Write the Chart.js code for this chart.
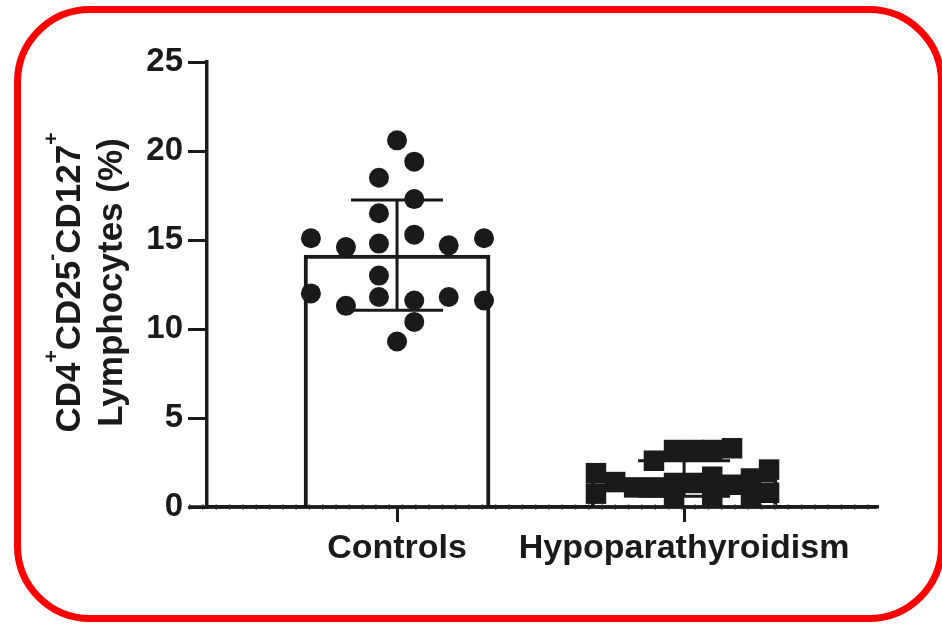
<!DOCTYPE html>
<html>
<head>
<meta charset="utf-8">
<script src="https://cdn.jsdelivr.net/npm/chart.js@4.4.1/dist/chart.umd.min.js"></script>
<style>
  html, body { margin: 0; padding: 0; background: #ffffff; }
  #wrap { position: relative; width: 942px; height: 628px; overflow: hidden; background: #ffffff; }
  #wrap canvas { position: absolute; left: 0; top: 0; }
  #frame {
    position: absolute; left: 14px; top: 6px; width: 931px; height: 616px;
    box-sizing: border-box; border: 7px solid #ff0000; border-radius: 76px;
    pointer-events: none;
  }
</style>
</head>
<body>
<div id="wrap">
  <canvas id="chart" width="942" height="628"></canvas>
  <div id="frame"></div>
</div>
<script>
// Groups on the x axis
const categories = ['Controls', 'Hypoparathyroidism'];

// Group summary: mean and standard deviation (%)
const groupMeans = [14.15, 1.6];
const groupSD = [3.1, 1.0];

// Individual subjects, Controls: horizontal spread within the column and value (%)
const controlsSpread = [0, 0.06, -0.063, 0.06, -0.063, -0.30, -0.178, -0.063, 0.06, 0.18,
                        0.303, -0.30, -0.178, -0.063, -0.063, 0.06, 0.18, 0.303, 0.06, 0];
const controlsValues = [20.6, 19.4, 18.5, 17.3, 16.5, 15.1, 14.6, 14.8, 15.3, 14.7,
                        15.1, 12.0, 11.3, 13.0, 11.8, 11.6, 11.8, 11.6, 10.4, 9.3];

// Individual subjects, Hypoparathyroidism
const hypoSpread = [-0.307, -0.307, -0.24, -0.174, -0.105, -0.105, -0.035, -0.035, -0.035, 0.035,
                    0.035, 0.098, 0.098, 0.098, 0.167, 0.167, 0.233, 0.233, 0.296, 0.296];
const hypoValues = [1.9, 0.75, 1.4, 1.1, 2.6, 1.1, 3.2, 1.35, 0.3, 3.2,
                    1.35, 3.2, 1.7, 0.65, 3.3, 1.25, 1.6, 0.55, 2.1, 0.8];

// Y axis
const yMin = 0, yMax = 25, yStep = 5;

// Y axis title: [text, isSuperscript]
const yTitleLines = [
  [['CD4', false], ['+', true], ['CD25', false], ['-', true], ['CD127', false], ['+', true]],
  [['Lymphocytes (%)', false]]
];

const INK = '#1a1a1a';
const FONT = '"Liberation Sans", Arial, Helvetica, sans-serif';

const pointsOf = (groupIndex, spread, values) =>
  values.map((v, i) => ({ x: groupIndex + spread[i], y: v }));

// Redraws the baseline (with its fine hatching) over the bar fills, then the SD whiskers
const errorBarPlugin = {
  id: 'errorBars',
  afterDatasetDraw(chart, args) {
    if (args.meta.type !== 'bar') return;
    const { ctx, chartArea, scales: { x, y } } = chart;
    ctx.save();
    // baseline hatching
    ctx.strokeStyle = '#8a8a8a';
    ctx.lineWidth = 6;
    ctx.setLineDash([1.5, 11.8]);
    ctx.beginPath();
    ctx.moveTo(chartArea.left - 18, chartArea.bottom);
    ctx.lineTo(chartArea.right, chartArea.bottom);
    ctx.stroke();
    ctx.setLineDash([]);
    ctx.strokeStyle = INK;
    ctx.lineWidth = 3.5;
    ctx.beginPath();
    ctx.moveTo(chartArea.left - 18, chartArea.bottom);
    ctx.lineTo(chartArea.right, chartArea.bottom);
    ctx.stroke();
    // whiskers
    ctx.lineWidth = 3;
    const capHalf = 46;
    categories.forEach((c, i) => {
      const px = x.getPixelForValue(i);
      const top = y.getPixelForValue(groupMeans[i] + groupSD[i]);
      const bot = y.getPixelForValue(groupMeans[i] - groupSD[i]);
      ctx.beginPath();
      ctx.moveTo(px, top); ctx.lineTo(px, bot);
      ctx.moveTo(px - capHalf, top); ctx.lineTo(px + capHalf, top);
      ctx.moveTo(px - capHalf, bot); ctx.lineTo(px + capHalf, bot);
      ctx.stroke();
    });
    ctx.restore();
  }
};

// Two-line rotated y axis title with superscripts
const yTitlePlugin = {
  id: 'yTitle',
  afterDraw(chart) {
    const { ctx, chartArea } = chart;
    const mainFont = 'bold 35px ' + FONT;
    const supFont = 'bold 21px ' + FONT;
    const baselines = [80, 122];
    const cy = (chartArea.top + chartArea.bottom) / 2 - 2;
    ctx.save();
    ctx.fillStyle = INK;
    ctx.textBaseline = 'alphabetic';
    ctx.textAlign = 'left';
    yTitleLines.forEach((parts, li) => {
      let total = 0;
      const widths = parts.map(([t, sup]) => {
        ctx.font = sup ? supFont : mainFont;
        const w = ctx.measureText(t).width;
        total += w;
        return w;
      });
      ctx.save();
      ctx.translate(baselines[li], cy);
      ctx.rotate(-Math.PI / 2);
      let xPos = -total / 2;
      parts.forEach(([t, sup], k) => {
        ctx.font = sup ? supFont : mainFont;
        ctx.fillText(t, xPos, sup ? -22 : 0);
        xPos += widths[k];
      });
      ctx.restore();
    });
    ctx.restore();
  }
};

new Chart(document.getElementById('chart'), {
  type: 'bar',
  data: {
    datasets: [
      {
        type: 'bar',
        data: groupMeans.map((m, i) => ({ x: i, y: m })),
        backgroundColor: '#ffffff',
        borderColor: INK,
        borderWidth: 4,
        borderSkipped: 'bottom',
        barThickness: 186,
        order: 3
      },
      {
        type: 'scatter',
        data: pointsOf(0, controlsSpread, controlsValues),
        pointStyle: 'circle',
        pointRadius: 10,
        pointHoverRadius: 10,
        backgroundColor: INK,
        borderColor: INK,
        borderWidth: 0,
        order: 1
      },
      {
        type: 'scatter',
        data: pointsOf(1, hypoSpread, hypoValues),
        pointStyle: 'rect',
        pointRadius: 14.5,
        pointHoverRadius: 14.5,
        backgroundColor: INK,
        borderColor: INK,
        borderWidth: 0,
        order: 2
      }
    ]
  },
  options: {
    responsive: false,
    animation: false,
    devicePixelRatio: 1,
    layout: { padding: { left: 0, top: 62, right: 65, bottom: 0 } },
    plugins: {
      legend: { display: false },
      tooltip: { enabled: false },
      title: { display: false }
    },
    scales: {
      x: {
        type: 'linear',
        min: -0.662,
        max: 1.672,
        offset: false,
        afterFit(scale) { scale.height = 121; },
        afterBuildTicks(scale) { scale.ticks = categories.map((c, i) => ({ value: i })); },
        grid: {
          offset: false,
          drawOnChartArea: false,
          drawTicks: true,
          tickLength: 15,
          lineWidth: 3,
          color: INK
        },
        border: { display: true, color: INK, width: 3.5 },
        ticks: {
          autoSkip: false,
          maxRotation: 0,
          padding: 6,
          color: INK,
          font: { family: FONT, size: 34, weight: 'bold' },
          callback: (v, i) => categories[i]
        }
      },
      y: {
        type: 'linear',
        min: yMin,
        max: yMax,
        afterFit(scale) { scale.width = 207; },
        grid: {
          drawOnChartArea: false,
          drawTicks: true,
          tickLength: 19,
          lineWidth: 3,
          color: INK
        },
        border: { display: true, color: INK, width: 3.5 },
        ticks: {
          stepSize: yStep,
          padding: 5,
          color: INK,
          font: { family: FONT, size: 33, weight: 'bold' }
        }
      }
    }
  },
  plugins: [errorBarPlugin, yTitlePlugin]
});
</script>
</body>
</html>
